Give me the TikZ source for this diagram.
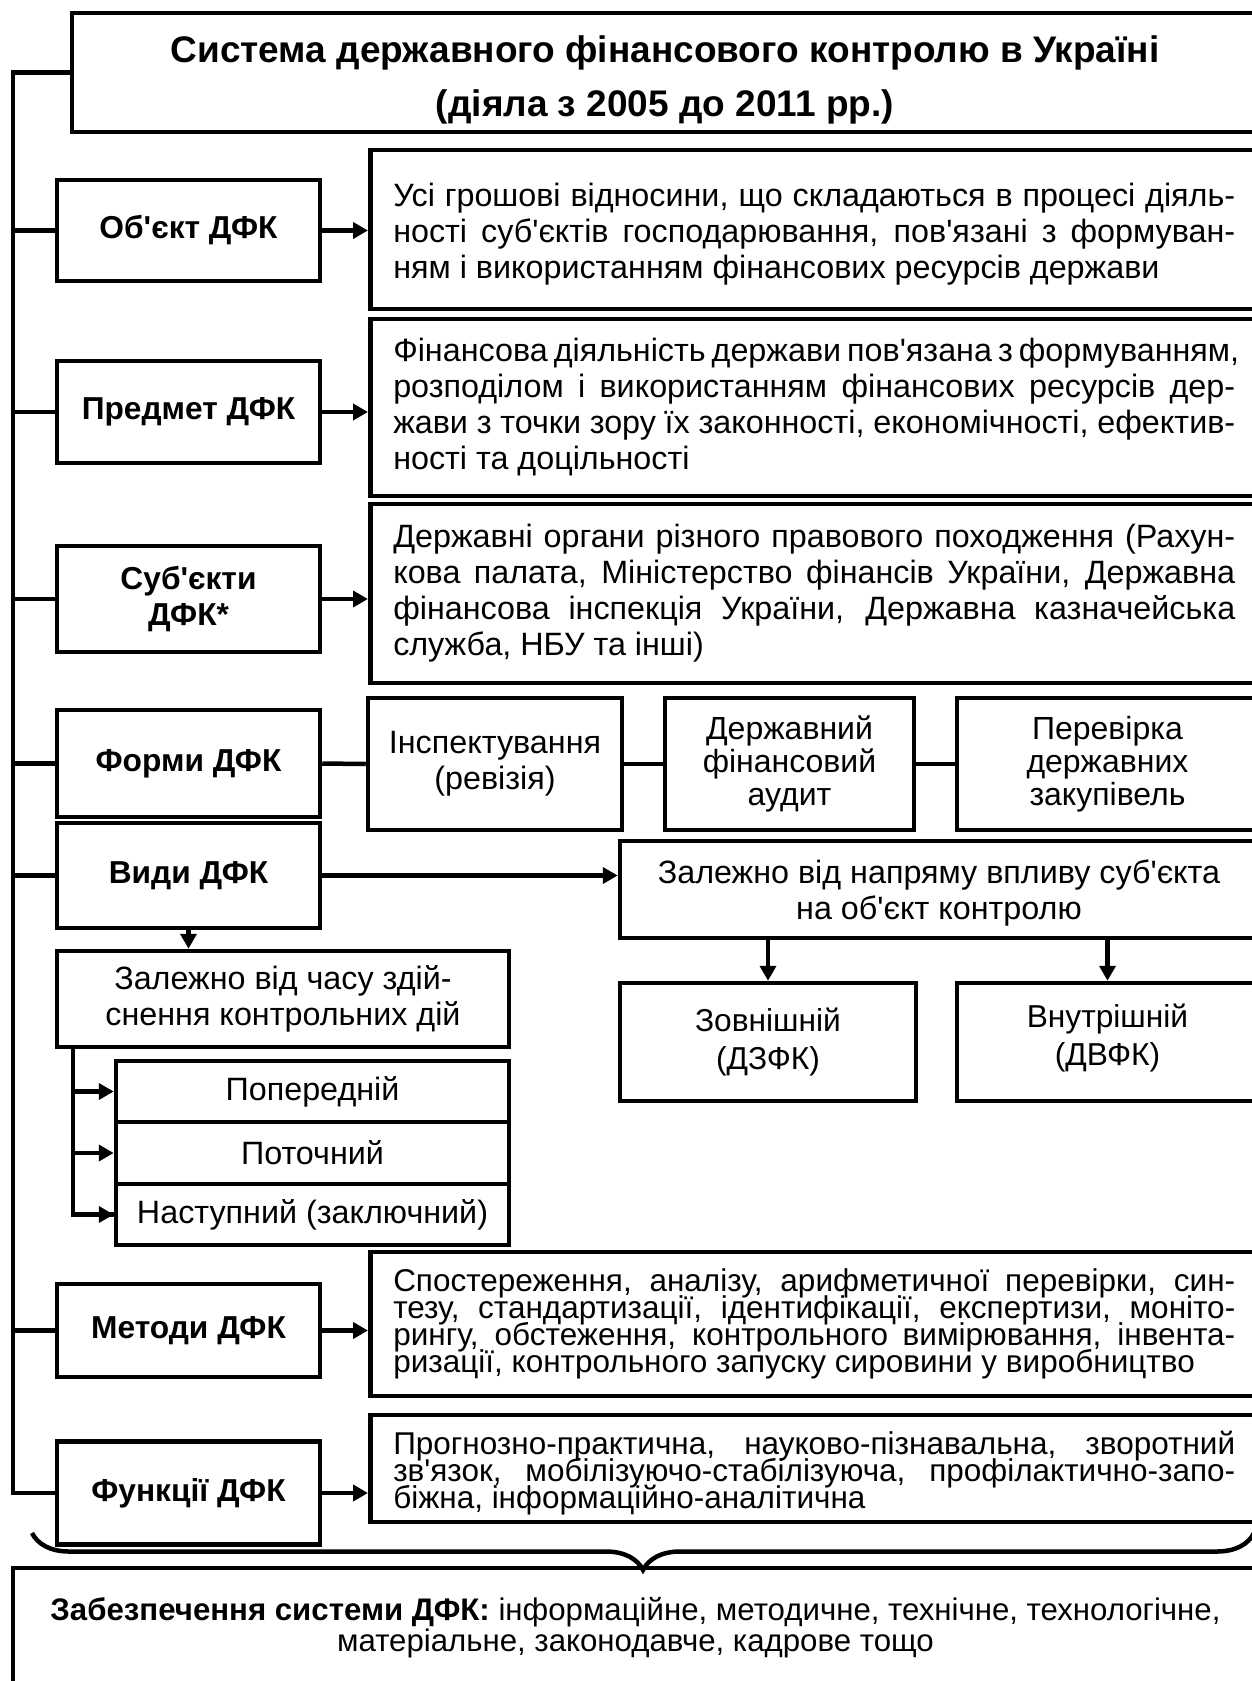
\documentclass[tikz,border=0pt]{standalone}
\usepackage{fontspec}
\setmainfont{Liberation Sans}[Ligatures=TeXOff]
\usetikzlibrary{arrows.meta,positioning,decorations.pathreplacing}

\newcommand{\bodyfont}{\fontsize{32.3}{36}\selectfont}
\newcommand{\tightfont}{\fontsize{31.5}{27}\selectfont\lineskiplimit=-100pt}
\newcommand{\lblfont}{\fontsize{31.7}{36}\selectfont\bfseries}
\newcommand{\titlefont}{\fontsize{37}{54}\selectfont\bfseries}

\tikzset{
    box/.style={draw, line width=4.5pt, align=center, inner sep=0pt, font=\bodyfont},
    lbl/.style={box, minimum width=263pt, font=\lblfont},
    desc/.style={draw, line width=4.5pt, anchor=west, text width=842pt, align=justify,
        inner xsep=23pt, inner ysep=0pt, font=\bodyfont},
    lnk/.style={line width=4.5pt},
    arr/.style={line width=4.5pt, -{Triangle[length=15pt,width=16pt]}}
}

\begin{document}
\begin{tikzpicture}[x=1pt, y=-1pt]
\useasboundingbox (0,0) rectangle (1252,1681);
\clip (0,0) rectangle (1252,1681);

\node[box, font=\titlefont, minimum width=1186pt, minimum height=119pt] (title) at (665,72.5)
    {\rule{0pt}{42pt}Система державного фінансового контролю в Україні\\(діяла з 2005 до 2011 рр.)};

% left column
\node[lbl, minimum height=101pt] (obj) at (188.5,230.5) {Об'єкт ДФК};
\node[lbl, minimum height=102pt] (pred) at (188.5,412) {Предмет ДФК};
\node[lbl, minimum height=106pt] (subj) at (188.5,599) {Суб'єкти\\ДФК*};
\node[lbl, minimum height=107pt] (form) at (188.5,763.5) {Форми ДФК};
\node[lbl, minimum height=105pt] (vydy) at (188.5,875.5) {Види ДФК};
\node[lbl, minimum height=93pt] (meth) at (188.5,1330.5) {Методи ДФК};
\node[lbl, minimum height=103pt] (func) at (188.5,1493) {Функції ДФК};

% descriptions
\node[desc, minimum height=159pt] (dobj) at (368,229.5)
    {\rule{0pt}{32pt}Усі грошові відносини, що складаються в процесі діяль-\linebreak ності суб'єктів господарювання, пов'язані з формуван-\linebreak ням і використанням фінансових ресурсів держави};
\node[desc, minimum height=177pt] (dpred) at (368,407.5)
    {Фінансова діяльність держави пов'язана з формуванням,\linebreak розподілом і використанням фінансових ресурсів дер-\linebreak жави з точки зору їх законності, економічності, ефектив-\linebreak ності та доцільності};
\node[desc, minimum height=179pt] (dsubj) at (368,593.5)
    {Державні органи різного правового походження (Рахун-\linebreak кова палата, Міністерство фінансів України, Державна\linebreak фінансова інспекція України, Державна казначейська\linebreak служба, НБУ та інші)};
\node[desc, minimum height=144pt, font=\tightfont] (dmeth) at (368,1324)
    {Спостереження, аналізу, арифметичної перевірки, син-\linebreak тезу, стандартизації, ідентифікації, експертизи, моніто-\linebreak рингу, обстеження, контрольного вимірювання, інвента-\linebreak ризації, контрольного запуску сировини у виробництво};
\node[desc, minimum height=107pt, font=\tightfont] (dfunc) at (368,1468.5)
    {\rule{0pt}{32pt}Прогнозно-практична, науково-пізнавальна, зворотний\linebreak зв'язок, мобілізуючо-стабілізуюча, профілактично-запо-\linebreak біжна, інформаційно-аналітична};

% forms
\node[box, minimum width=254pt, minimum height=132pt] (insp) at (495,764) {Інспектування\\(ревізія)};
\node[box, minimum width=249pt, minimum height=132pt, font=\fontsize{32}{33}\selectfont] (audit) at (789.5,764) {Державний\\фінансовий\\аудит};
\node[box, minimum width=301pt, minimum height=132pt, font=\fontsize{32}{33}\selectfont] (perev) at (1107.5,764) {Перевірка\\державних\\закупівель};

% kinds
\node[box, minimum width=638pt, minimum height=97pt] (napr) at (939,889.5) {\rule{0pt}{30pt}Залежно від напряму впливу суб'єкта\\на об'єкт контролю};
\node[box, minimum width=296pt, minimum height=118pt, font=\fontsize{31.7}{38}\selectfont] (zovn) at (768,1042) {Зовнішній\\(ДЗФК)};
\node[box, minimum width=301pt, minimum height=118pt, font=\fontsize{31.7}{38}\selectfont] (vnut) at (1107.5,1042) {Внутрішній\\(ДВФК)\rule[-14pt]{0pt}{1pt}};
\node[box, minimum width=452pt, minimum height=96pt] (chas) at (283,999) {Залежно від часу здій-\\снення контрольних дій};
\node[box, minimum width=393pt, minimum height=61pt] (pop) at (312.5,1091.5) {Попередній};
\node[box, minimum width=393pt, minimum height=62pt] (potoch) at (312.5,1153) {Поточний};
\node[box, minimum width=393pt, minimum height=61pt] (nast) at (312.5,1214.5) {Наступний (заключний)};

\node[box, minimum width=1245pt, minimum height=120pt, font=\fontsize{31.2}{31}\selectfont] (zabez) at (635.5,1628)
    {\textbf{Забезпечення системи ДФК:} інформаційне, методичне, технічне, технологічне,\\матеріальне, законодавче, кадрове тощо};

% trunk
\coordinate (tr) at (13,72.5);
\draw[lnk] (title.west) -- (tr) |- (func.west);
\foreach \n in {obj,pred,subj,form,vydy,meth}
    \draw[lnk] (tr |- \n.west) -- (\n.west);

\foreach \n/\d in {obj/dobj,pred/dpred,subj/dsubj,meth/dmeth,func/dfunc}
    \draw[arr] (\n.east) -- (\n.east -| \d.west);

\draw[lnk] (form.east) -- (insp.west);
\draw[lnk] (insp.east) -- (audit.west);
\draw[lnk] (audit.east) -- (perev.west);

\draw[arr] (vydy.east) -- (vydy.east -| napr.west);
\draw[arr] (napr.south -| zovn.north) -- (zovn.north);
\draw[arr] (napr.south -| vnut.north) -- (vnut.north);
\draw[arr] (vydy.south) -- (vydy.south |- chas.north);

\coordinate (st) at (73,1047);
\draw[lnk] (st) |- (nast.west);
\foreach \n in {pop,potoch,nast}
    \draw[arr] (st |- \n.west) -- (\n.west);

\draw[lnk, decorate, decoration={brace, mirror, amplitude=37pt}] (32,1533) -- (1254,1533);

\end{tikzpicture}
\end{document}
